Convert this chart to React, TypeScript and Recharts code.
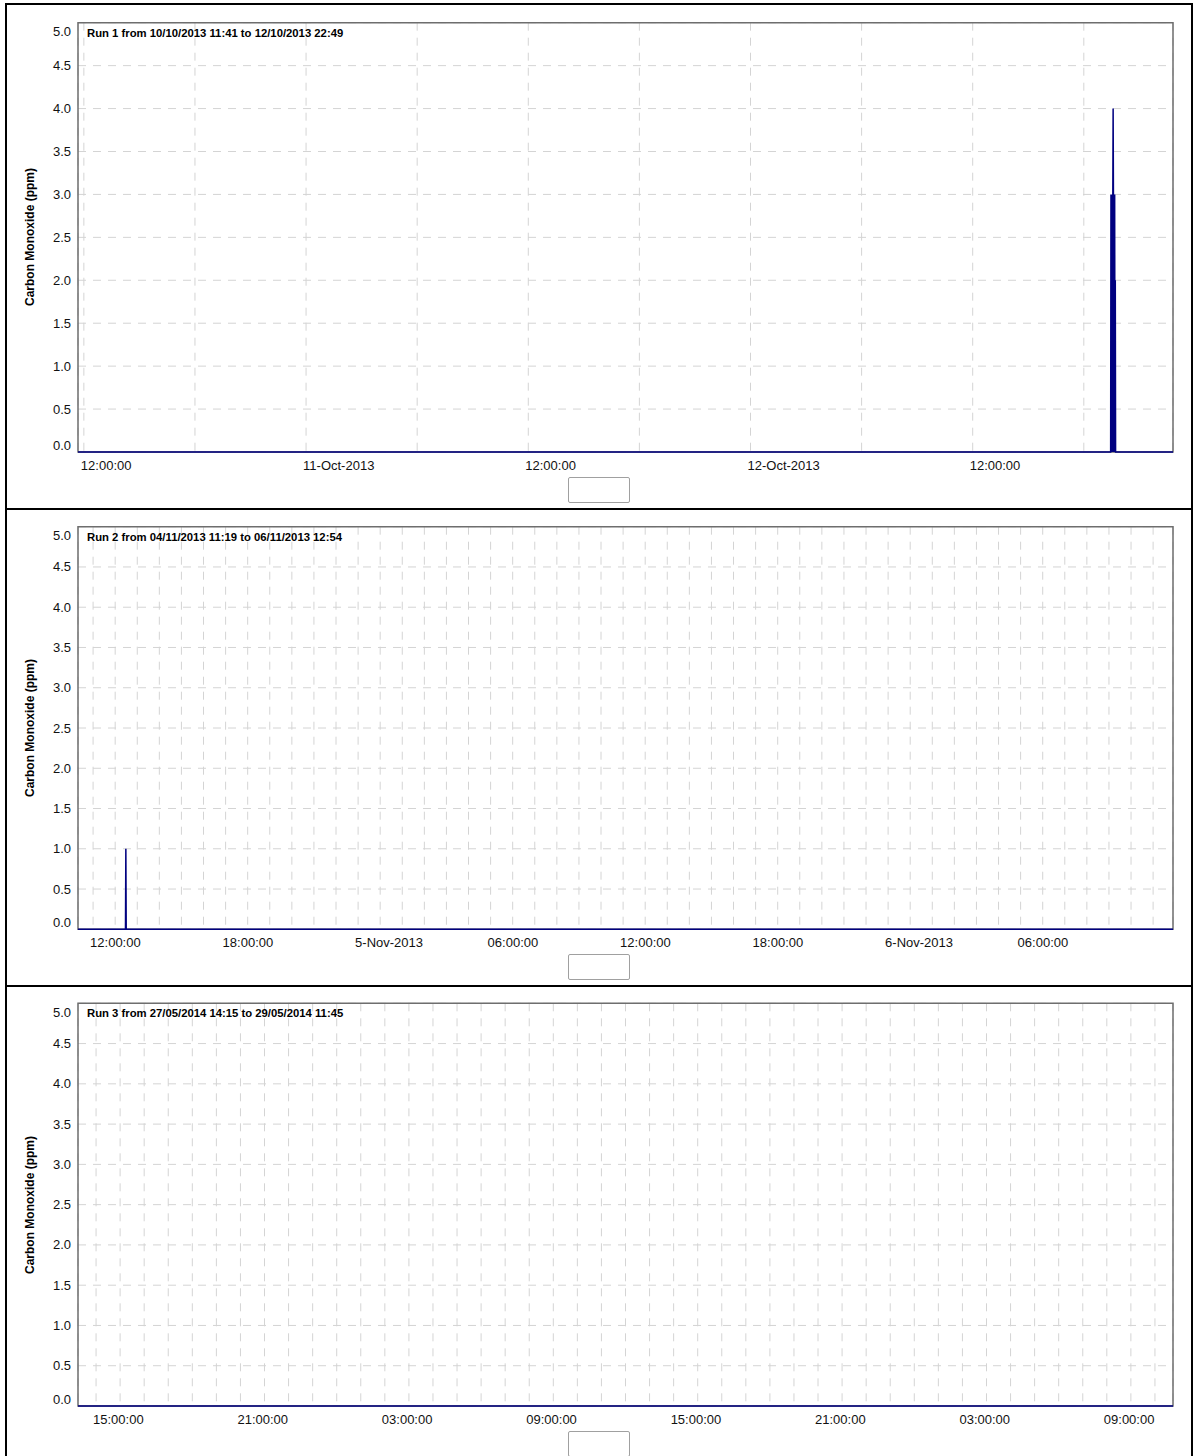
import React from "react";
import { LineChart, Line, XAxis, YAxis, CartesianGrid, ReferenceArea } from "recharts";

const FONT = '"Liberation Sans", Arial, Helvetica, sans-serif';
const NAVY = "#000080";

// logger readings (local time) and CO in ppm
const run1Times = [
  "2013-10-10 11:41",
  "2013-10-12 19:27", "2013-10-12 19:28", "2013-10-12 19:29", "2013-10-12 19:30",
  "2013-10-12 19:31", "2013-10-12 19:32", "2013-10-12 19:33", "2013-10-12 19:34",
  "2013-10-12 19:35", "2013-10-12 19:36", "2013-10-12 19:37", "2013-10-12 19:38",
  "2013-10-12 19:39", "2013-10-12 19:40", "2013-10-12 19:41", "2013-10-12 19:42",
  "2013-10-12 19:43", "2013-10-12 19:44",
  "2013-10-12 22:49",
];
const run1Co = [0, 0, 3, 0, 3, 0, 3, 0, 3, 4, 3, 0, 3, 0, 3, 0, 2, 0, 0, 0];

const run2Times = ["2013-11-04 11:19", "2013-11-04 13:28", "2013-11-04 13:29", "2013-11-04 13:30", "2013-11-06 12:54"];
const run2Co = [0, 0, 1, 0, 0];

const run3Times = ["2014-05-27 14:15", "2014-05-29 11:45"];
const run3Co = [0, 0];

const run1Labels = ["12:00:00", "11-Oct-2013", "12:00:00", "12-Oct-2013", "12:00:00"];
const run2Labels = ["12:00:00", "18:00:00", "5-Nov-2013", "06:00:00", "12:00:00", "18:00:00", "6-Nov-2013", "06:00:00"];
const run3Labels = ["15:00:00", "21:00:00", "03:00:00", "09:00:00", "15:00:00", "21:00:00", "03:00:00", "09:00:00"];

const yTicks = [0, 0.5, 1, 1.5, 2, 2.5, 3, 3.5, 4, 4.5, 5];

const ts = (s: string) => {
  const [d, t] = s.split(" ");
  const [y, m, dd] = d.split("-").map(Number);
  const [h, mi] = t.split(":").map(Number);
  return Date.UTC(y, m - 1, dd, h, mi);
};

const panels = [
  {
    title: "Run 1 from 10/10/2013 11:41 to 12/10/2013 22:49",
    times: run1Times, values: run1Co, labels: run1Labels,
    firstGrid: "2013-10-10 12:00", gridHours: 6, labelEvery: 2,
    top: 0, height: 509, plotTop: 22.7, plotBottom: 452, legendTop: 476.7,
  },
  {
    title: "Run 2 from 04/11/2013 11:19 to 06/11/2013 12:54",
    times: run2Times, values: run2Co, labels: run2Labels,
    firstGrid: "2013-11-04 12:00", gridHours: 1, labelEvery: 6,
    top: 509, height: 477, plotTop: 17.7, plotBottom: 420.3, legendTop: 445,
  },
  {
    title: "Run 3 from 27/05/2014 14:15 to 29/05/2014 11:45",
    times: run3Times, values: run3Co, labels: run3Labels,
    firstGrid: "2014-05-27 15:00", gridHours: 1, labelEvery: 6,
    top: 986, height: 470, plotTop: 17.3, plotBottom: 420, legendTop: 444.7,
  },
];

const XTick = (props: any) => {
  const { x, y, index, labels, every } = props;
  if (index % every !== 0 || !labels[index / every]) return <g />;
  return (
    <text x={x - 3} y={y + 11.5} textAnchor="start" dominantBaseline="central"
      fontSize={13} fontFamily={FONT} fill="#111">
      {labels[index / every]}
    </text>
  );
};

const YTick = (props: any) => {
  const { x, y, payload } = props;
  const v = payload.value;
  // end labels are pulled inside the plot like the original logger software
  const shift = v === 5 ? 9 : v === 0 ? -7 : 0;
  return (
    <text x={x} y={y + shift} textAnchor="end" dominantBaseline="central"
      fontSize={13} fontFamily={FONT} fill="#111">
      {v.toFixed(1)}
    </text>
  );
};

function Panel({ p }: { p: (typeof panels)[number] }) {
  const data = p.times.map((t, i) => ({ t: ts(t), co: p.values[i] }));
  const start = data[0].t;
  const end = data[data.length - 1].t;
  const gridTicks: number[] = [];
  for (let t = ts(p.firstGrid); t <= end; t += p.gridHours * 3600000) gridTicks.push(t);
  const xAxisHeight = 30;

  return (
    <div style={{ position: "absolute", left: 0, top: p.top, width: 1200, height: p.height }}>
      <LineChart
        width={1200}
        height={p.height}
        data={data}
        margin={{ top: p.plotTop, right: 27, left: 0, bottom: p.height - p.plotBottom - xAxisHeight }}
      >
        <CartesianGrid strokeDasharray="8 7" stroke="#d4d4d4" strokeWidth={1} />
        <XAxis
          dataKey="t"
          type="number"
          domain={[start, end]}
          ticks={gridTicks}
          interval={0}
          tickSize={0}
          axisLine={false}
          height={xAxisHeight}
          allowDataOverflow
          tick={<XTick labels={p.labels} every={p.labelEvery} />}
        />
        <YAxis
          type="number"
          domain={[0, 5]}
          ticks={yTicks}
          interval={0}
          width={78}
          tickSize={0}
          tickMargin={7}
          axisLine={false}
          tick={<YTick />}
        />
        <ReferenceArea x1={start} x2={end} y1={0} y2={5} fill="none" stroke="#6e6e6e"
          strokeWidth={1.5} ifOverflow="visible" />
        <Line type="linear" dataKey="co" stroke={NAVY} strokeWidth={1.5} dot={false}
          activeDot={false} isAnimationActive={false} />
      </LineChart>
      <div style={{
        position: "absolute", left: 87, top: p.plotTop + 4, fontFamily: FONT, fontSize: 11.3,
        fontWeight: "bold", lineHeight: "13px", color: "#000", whiteSpace: "nowrap",
      }}>
        {p.title}
      </div>
      <div style={{
        position: "absolute", left: 30, top: (p.plotTop + p.plotBottom) / 2, fontFamily: FONT,
        fontSize: 12, fontWeight: "bold", color: "#000", whiteSpace: "nowrap",
        transform: "translate(-50%, -50%) rotate(-90deg)",
      }}>
        Carbon Monoxide (ppm)
      </div>
      <div style={{
        position: "absolute", left: 567.7, top: p.legendTop, width: 62.3, height: 26,
        border: "1.5px solid #a0a0a0", borderRadius: 2, boxSizing: "border-box", background: "#fff",
      }} />
    </div>
  );
}

export default function App() {
  const line = "#000";
  return (
    <div style={{ position: "absolute", left: 0, top: 0, width: 1200, height: 1456, overflow: "hidden", background: "#fff" }}>
      {panels.map((p, i) => <Panel key={i} p={p} />)}
      <div style={{ position: "absolute", left: 5, top: 3, width: 1188, height: 2, background: line }} />
      <div style={{ position: "absolute", left: 5, top: 3, width: 2, height: 1453, background: line }} />
      <div style={{ position: "absolute", left: 1191, top: 3, width: 2, height: 1453, background: line }} />
      <div style={{ position: "absolute", left: 5, top: 508, width: 1188, height: 2, background: line }} />
      <div style={{ position: "absolute", left: 5, top: 985, width: 1188, height: 2, background: line }} />
    </div>
  );
}
